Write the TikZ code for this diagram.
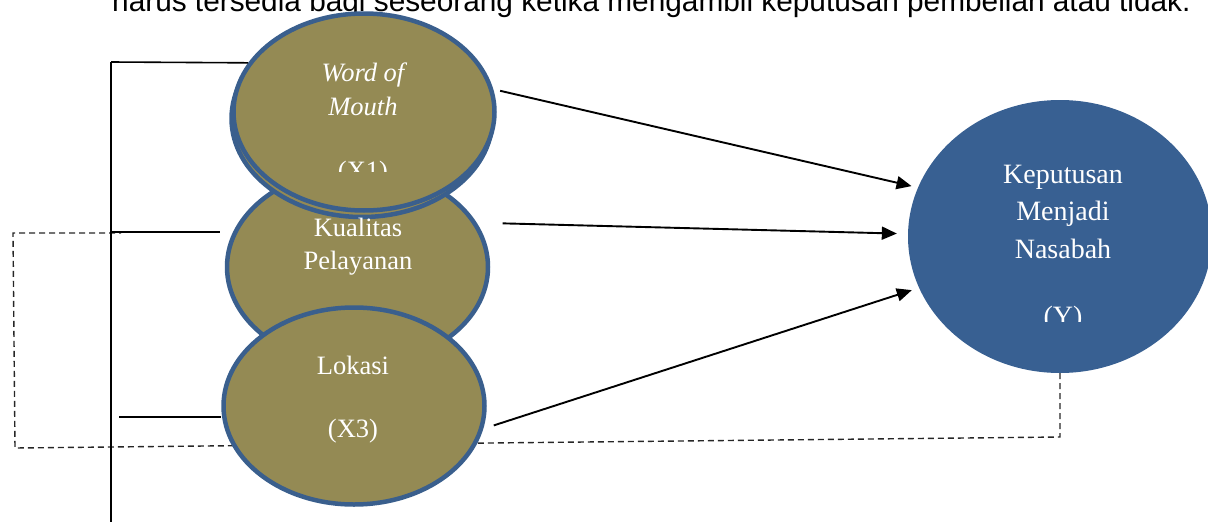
\documentclass[tikz,border=0pt]{standalone}
\usepackage{fontspec}
\setmainfont{Liberation Serif}
\newfontfamily\arialfont{Liberation Sans}
\usetikzlibrary{arrows.meta,shapes.geometric}

\definecolor{olivefill}{HTML}{948A54}
\definecolor{rimblue}{HTML}{3A5F8D}
\definecolor{ynavy}{HTML}{386092}

\begin{document}
\begin{tikzpicture}[x=1pt,y=1pt,
	varnode/.style={ellipse,draw=rimblue,line width=4.5pt,fill=olivefill,minimum width=261pt,minimum height=197pt},
	ynode/.style={ellipse,fill=ynavy,minimum width=304pt,minimum height=273pt},
	vartext/.style={text=white,align=center,font=\fontsize{26.5}{33}\selectfont},
	ytext/.style={text=white,align=center,font=\fontsize{28}{37.5}\selectfont},
	link/.style={black,line width=1.9pt,-{Triangle[length=15pt,width=13pt]}},
	bar/.style={black,line width=1.6pt},
	back/.style={black!85,line width=1.4pt,dash pattern=on 6pt off 4pt}]
				\tikzstyle{every node}+=[inner sep=0pt]
				\useasboundingbox (0,0) rectangle (1208,-522);
				\clip (0,0) rectangle (1208,-522);
				\node [anchor=base west,font=\arialfont\fontsize{29.8}{32}\selectfont] (intro) at (112,-11) {harus tersedia bagi seseorang ketika mengambil keputusan pembelian atau tidak.};
				% left frame
				\coordinate (top) at (111,-62);
				\coordinate (bottom) at (111,-522);
				\coordinate (h2) at (112,-232);
				\coordinate (h2e) at (220,-232);
				\coordinate (h3) at (119,-417);
				\coordinate (h3e) at (221,-417);
				\coordinate (d1) at (121,-233);
				\coordinate (d2) at (13,-233);
				\coordinate (d3) at (15,-448);
				\coordinate (d4) at (1060,-437);
				\node [ynode] (Y) at (1060,-236.5) {};
				\draw [back] (Y.south) -- (d4) -- (d3) -- (d2) -- (d1);
				\draw [black,line width=2.2pt] (top) -- (bottom);
				\draw [bar] (h2) -- (h2e);
				\draw [black,line width=2.2pt] (h3) -- (h3e);
				% variables
				\node [varnode] (X2) at (357.5,-267) {};
				\node [varnode] (X1s) at (362,-118.5) {};
				\node [varnode] (X1) at (364,-112) {};
				\node [varnode] (X3) at (354,-406) {};
				\draw [bar] (top) -- (X1.157);
				% labels
				\node [vartext,anchor=north,font=\fontsize{26.5}{34}\selectfont\itshape] (X1txt) at (363,-63) {Word of\\Mouth};
				\begin{scope}
					\clip (200,-40) rectangle (520,-171);
					\node [vartext,anchor=base] (X1lab) at (363,-179) {(X1)};
				\end{scope}
				\node [vartext,anchor=north] (X2txt) at (358,-217.5) {Kualitas\\Pelayanan};
				\node [vartext,anchor=base] (X3txt) at (353,-374) {Lokasi};
				\node [vartext,anchor=base] (X3lab) at (353,-437) {(X3)};
				\node [ytext,anchor=north] (Ytxt) at (1063,-164.5) {Keputusan\\Menjadi\\Nasabah};
				\begin{scope}
					\clip (900,-290) rectangle (1208,-321);
					\node [ytext,anchor=base] (Ylab) at (1063,-325) {(Y)};
				\end{scope}
				% arrows
				\draw [link,shorten <=7pt,shorten >=6.5pt] (X1.10) -- (Y.161);
				\draw [link,shorten >=11pt] ([shift={(22,6)}]X2.17) -- (Y.179);
				\draw [link,shorten <=11pt,shorten >=7.5pt] (X3.-10) -- (Y.200);
			\end{tikzpicture}
\end{document}
